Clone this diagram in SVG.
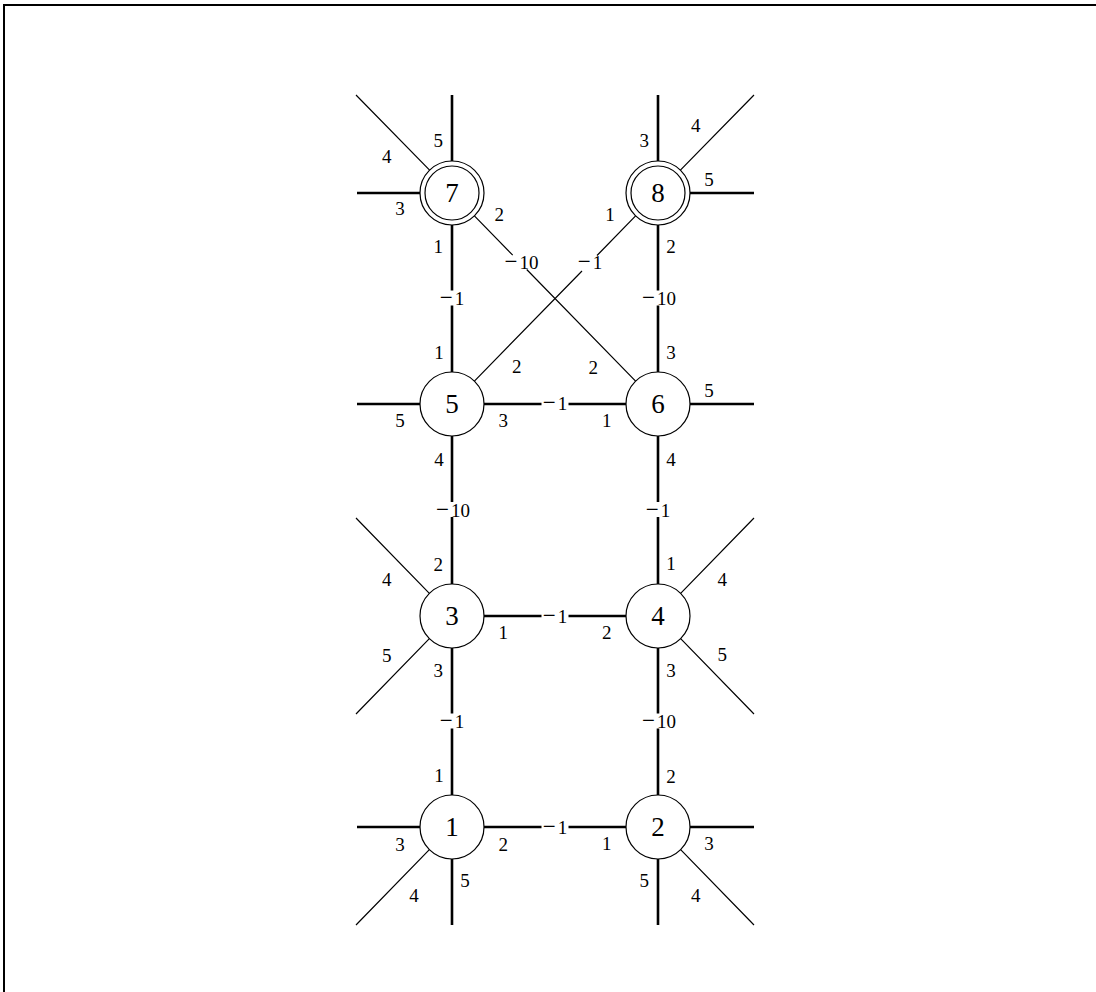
<svg xmlns="http://www.w3.org/2000/svg" width="1096" height="992" viewBox="0 0 1096 992">
<style>
.node{fill:#fff;stroke:#000;stroke-width:1.2}
.nl{font-family:"Liberation Serif",serif;font-size:27px;text-anchor:middle;fill:#000}
.pl{font-family:"Liberation Serif",serif;font-size:19px;text-anchor:middle;fill:#000}
.el{font-family:"Liberation Serif",serif;font-size:19px;text-anchor:middle;fill:#000}
.m{font-size:23px}
.thick{stroke:#000;stroke-width:2.6;fill:none}
.thin{stroke:#000;stroke-width:1.2;fill:none}
.frame{stroke:#000;stroke-width:2;fill:none}
</style>
<rect width="1096" height="992" fill="#fff"/>
<path class="frame" d="M4,992 V5 H1096"/>
<g id="connectors">
<!-- stubs -->
<path class="thick" d="M452,161 V95 M420,193 H357 M658,161 V95 M690,193 H754 M420,404 H357 M690,404 H754 M452,859 V925 M420,827 H357 M658,859 V925 M690,827 H754"/>
<path class="thin" d="M429.6,170.1 L356,95 M680.4,170.1 L754,95 M429.6,638.4 L356,714 M429.6,593.6 L356,518 M680.4,593.6 L754,518 M680.4,638.4 L754,714 M429.6,849.4 L356,925 M680.4,849.4 L754,925"/>
<!-- vertical edges -->
<path class="thick" d="M452,225 V290.5 M452,305.5 V372 M658,225 V290.5 M658,305.5 V372 M452,436 V502 M452,517 V584 M658,436 V502 M658,517 V584 M452,648 V713.5 M452,728.5 V795 M658,648 V713.5 M658,728.5 V795"/>
<!-- horizontal edges -->
<path class="thick" d="M484,404 H541.5 M568.5,404 H626 M484,616 H541.5 M568.5,616 H626 M484,827 H541.5 M568.5,827 H626"/>
<!-- diagonals -->
<path class="thin" d="M474.4,215.9 L512.7,255.2 M526.7,269.5 L635.6,381.1 M635.6,215.9 L597,255.5 M582,271 L474.4,381.1"/>
<!-- edge labels -->
<text class="el" x="452" y="305"><tspan class="m">−</tspan><tspan dx="2">1</tspan></text>
<text class="el" x="659" y="305"><tspan class="m">−</tspan><tspan dx="2">10</tspan></text>
<text class="el" x="521.5" y="269"><tspan class="m">−</tspan><tspan dx="2">10</tspan></text>
<text class="el" x="590" y="269"><tspan class="m">−</tspan><tspan dx="2">1</tspan></text>
<text class="el" x="555" y="410"><tspan class="m">−</tspan><tspan dx="2">1</tspan></text>
<text class="el" x="453" y="516.5"><tspan class="m">−</tspan><tspan dx="2">10</tspan></text>
<text class="el" x="658" y="516.5"><tspan class="m">−</tspan><tspan dx="2">1</tspan></text>
<text class="el" x="555" y="622.5"><tspan class="m">−</tspan><tspan dx="2">1</tspan></text>
<text class="el" x="452" y="728"><tspan class="m">−</tspan><tspan dx="2">1</tspan></text>
<text class="el" x="659" y="728"><tspan class="m">−</tspan><tspan dx="2">10</tspan></text>
<text class="el" x="555" y="833.5"><tspan class="m">−</tspan><tspan dx="2">1</tspan></text>
</g>
<g id="node7">
<circle class="node" cx="452" cy="193" r="32"/>
<circle class="node" cx="452" cy="193" r="27"/>
<text class="nl" x="452" y="202">7</text>
<text class="pl" x="438.3" y="146.5">5</text>
<text class="pl" x="386.7" y="162.5">4</text>
<text class="pl" x="400" y="214.8">3</text>
<text class="pl" x="499.3" y="220.8">2</text>
<text class="pl" x="438.3" y="253.2">1</text>
</g>
<g id="node8">
<circle class="node" cx="658" cy="193" r="32"/>
<circle class="node" cx="658" cy="193" r="27"/>
<text class="nl" x="658" y="202">8</text>
<text class="pl" x="644.3" y="147.2">3</text>
<text class="pl" x="695.7" y="132.2">4</text>
<text class="pl" x="709" y="185.5">5</text>
<text class="pl" x="610" y="220.5">1</text>
<text class="pl" x="671" y="253.2">2</text>
</g>
<g id="node5">
<circle class="node" cx="452" cy="404" r="32"/>
<text class="nl" x="452" y="413">5</text>
<text class="pl" x="439" y="358.8">1</text>
<text class="pl" x="516.7" y="373.2">2</text>
<text class="pl" x="400" y="427.2">5</text>
<text class="pl" x="503.3" y="427.2">3</text>
<text class="pl" x="439" y="465.5">4</text>
</g>
<g id="node6">
<circle class="node" cx="658" cy="404" r="32"/>
<text class="nl" x="658" y="413">6</text>
<text class="pl" x="671" y="358.8">3</text>
<text class="pl" x="593.3" y="373.8">2</text>
<text class="pl" x="709" y="396.5">5</text>
<text class="pl" x="606.7" y="427.2">1</text>
<text class="pl" x="671" y="465.5">4</text>
</g>
<g id="node3">
<circle class="node" cx="452" cy="616" r="32"/>
<text class="nl" x="452" y="625">3</text>
<text class="pl" x="438.3" y="570.8">2</text>
<text class="pl" x="386.7" y="585.8">4</text>
<text class="pl" x="503.3" y="638.8">1</text>
<text class="pl" x="386.7" y="661.5">5</text>
<text class="pl" x="438.3" y="676.5">3</text>
</g>
<g id="node4">
<circle class="node" cx="658" cy="616" r="32"/>
<text class="nl" x="658" y="625">4</text>
<text class="pl" x="671" y="569.8">1</text>
<text class="pl" x="722.3" y="585.5">4</text>
<text class="pl" x="606.7" y="638.8">2</text>
<text class="pl" x="722.3" y="660.8">5</text>
<text class="pl" x="671" y="676.5">3</text>
</g>
<g id="node1">
<circle class="node" cx="452" cy="827" r="32"/>
<text class="nl" x="452" y="836">1</text>
<text class="pl" x="439" y="781.5">1</text>
<text class="pl" x="400" y="850.5">3</text>
<text class="pl" x="503.3" y="850.5">2</text>
<text class="pl" x="465" y="887.2">5</text>
<text class="pl" x="414" y="902.2">4</text>
</g>
<g id="node2">
<circle class="node" cx="658" cy="827" r="32"/>
<text class="nl" x="658" y="836">2</text>
<text class="pl" x="671" y="783.2">2</text>
<text class="pl" x="606.7" y="849.8">1</text>
<text class="pl" x="709" y="849.8">3</text>
<text class="pl" x="644.3" y="887.2">5</text>
<text class="pl" x="695.7" y="902.2">4</text>
</g>
</svg>
